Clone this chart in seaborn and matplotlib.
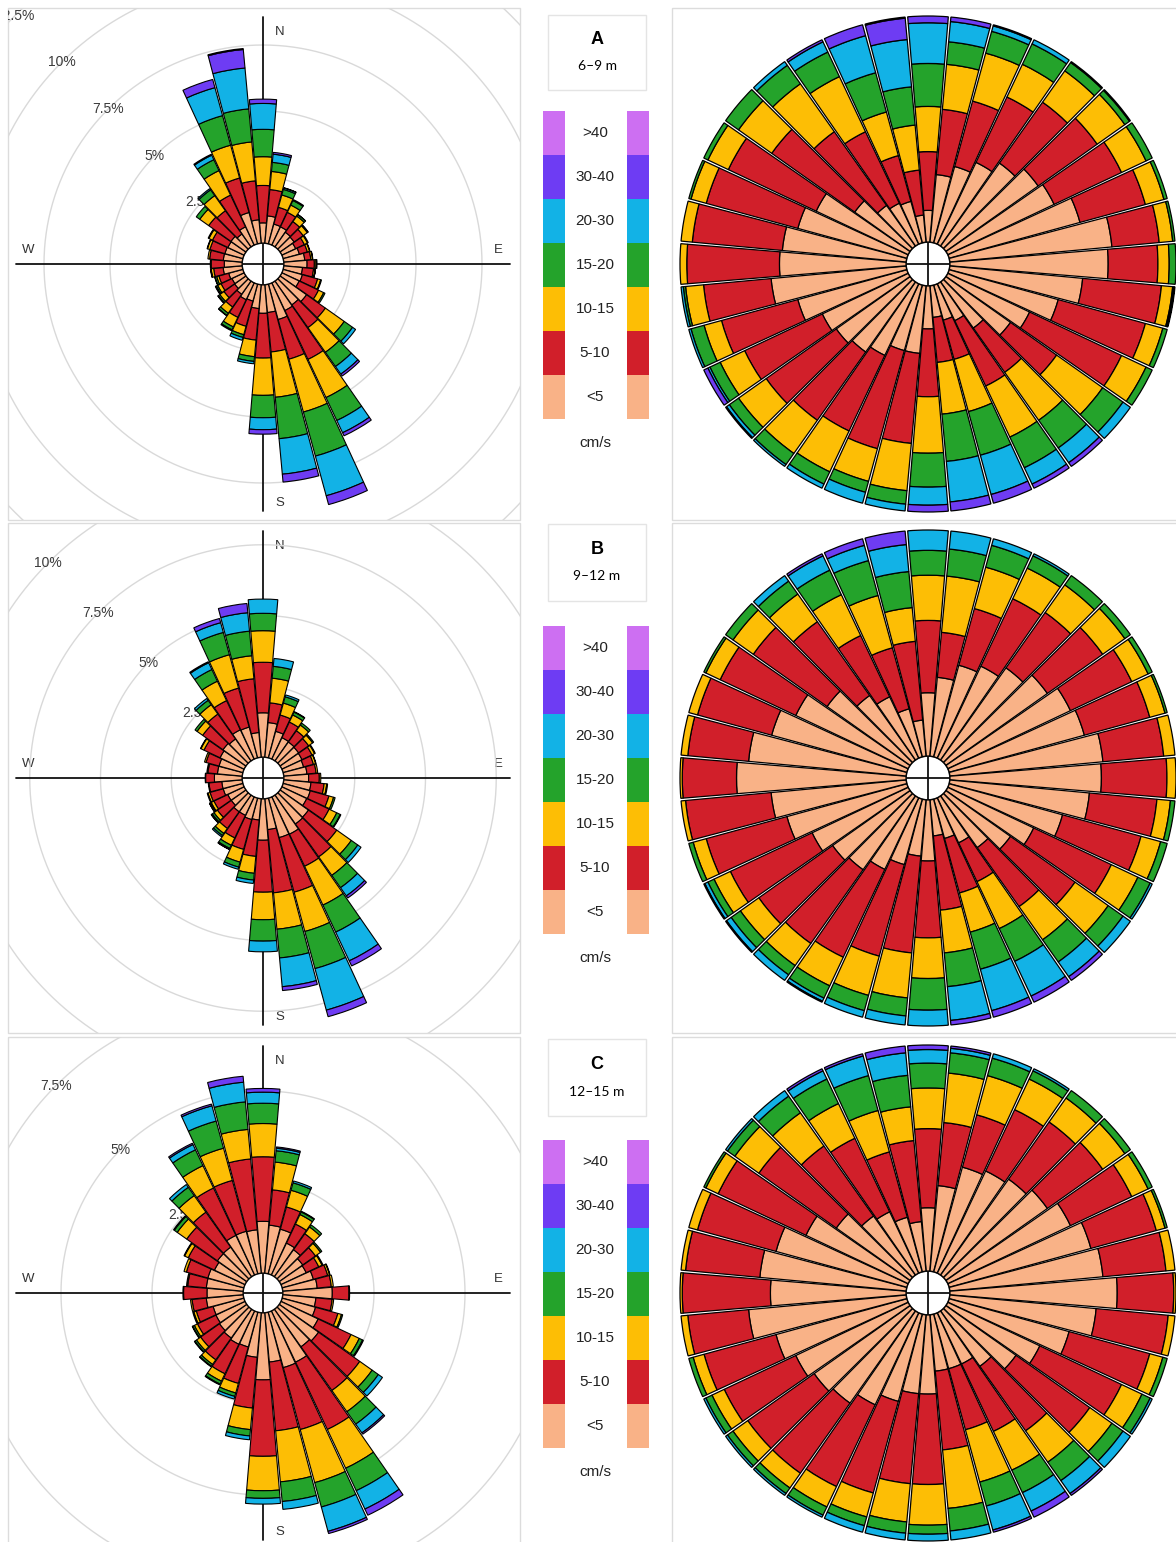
import numpy as np
import matplotlib
matplotlib.use("Agg")
import matplotlib.pyplot as plt
import seaborn as sns
from matplotlib.patches import Rectangle
from matplotlib.transforms import Bbox, TransformedBbox

sns.set_theme(style="white")
plt.rcParams['font.family'] = ['Liberation Sans', 'DejaVu Sans']

# ---------------- data ----------------
dir_deg = np.arange(0, 360, 10)
speed_classes = ['<5', '5-10', '10-15', '15-20', '20-30', '30-40', '>40']
class_colors = ['#f9b287', '#d11f2a', '#fdbe05', '#24a32b', '#12b2e6', '#6e3cf3', '#cd6ff2']
panel_letters = ['A', 'B', 'C']
panel_depths = ['6\u20139 m', '9\u201312 m', '12\u201315 m']

# direction frequency (% of all records)
A_total = [5.45, 3.45, 2.2, 1.9, 1.5, 1.3, 1.1, 1.05, 1.1, 1.25,
           1.2, 1.5, 1.8, 3.5, 4.4, 6.4, 8.65, 7.5, 5.65, 3.0,
           2.2, 2.0, 1.6, 1.3, 1.2, 1.1, 1.2, 1.2, 1.3, 1.4,
           1.5, 2.3, 2.7, 3.8, 6.45, 7.4]
# cumulative share of each direction (%), upper edge of each speed class
A_cum_5 = [14, 30, 35, 40, 45, 50, 52, 60, 72, 70, 59, 50, 40, 35, 25, 18, 16, 14, 19, 30,
           30, 35, 38, 40, 42, 50, 60, 56, 55, 50, 45, 30, 22, 20, 19, 12]
A_cum_10 = [40, 59, 65, 72, 78, 82, 85, 90, 93, 92, 94, 90, 85, 60, 49, 50, 34, 34, 49, 70,
            75, 72, 75, 78, 80, 85, 90, 97, 95, 92, 88, 75, 62, 55, 40, 32]
A_cum_15 = [60, 79, 87, 88, 95, 97, 97, 98.5, 99, 97, 99, 98, 97, 85, 75, 75, 58, 57, 74, 91,
            90, 92, 93, 93, 92, 93, 98, 100, 100, 99, 98, 93, 88, 82, 60, 52]
A_cum_20 = [79, 89, 97, 98, 99.5, 99.5, 100, 100, 100, 100, 99.5, 100, 100, 96, 90, 90, 78, 78, 89, 97,
            95, 98, 99, 98, 97, 99, 99, 100, 100, 100, 100, 100, 98, 94, 78, 69]
A_cum_30 = [97, 98, 99.5, 100, 100, 100, 100, 100, 100, 100, 99.7, 100, 100, 100, 98, 98, 96, 96, 97, 100,
            100, 100, 100, 99.5, 98, 100, 100, 100, 100, 100, 100, 100, 100, 99, 95, 90]
A_cum_40 = [100] * 35 + [99.5]

B_total = [5.58, 3.5, 2.3, 1.85, 1.63, 1.45, 1.3, 1.2, 1.2, 1.3,
           1.55, 1.9, 2.3, 3.5, 4.45, 6.6, 8.0, 6.8, 5.4, 3.0,
           2.6, 2.05, 1.8, 1.5, 1.35, 1.3, 1.2, 1.3, 1.25, 1.4,
           1.7, 2.2, 2.7, 3.8, 5.1, 5.45]
B_cum_5 = [28, 35, 42, 45, 50, 55, 60, 62, 68, 67, 62, 52, 42, 35, 28, 22, 18, 16, 27, 25,
           30, 35, 40, 42, 47, 55, 60, 75, 70, 62, 55, 45, 35, 30, 22, 16]
B_cum_10 = [60, 55, 68, 78, 80, 85, 90, 92, 95, 96, 92, 88, 80, 70, 60, 41, 43, 49, 61, 68,
            72, 78, 80, 82, 87, 92, 98, 99, 97, 96, 92, 85, 75, 60, 50, 51]
B_cum_15 = [80, 80, 87, 93, 95, 97, 98, 99, 100, 100, 98, 97, 93, 88, 78, 64, 61, 68, 79, 88,
            90, 92, 92, 92, 95, 98, 100, 100, 100, 100, 99, 96, 90, 80, 74, 66]
B_cum_20 = [91, 92, 97, 99, 100, 100, 100, 100, 100, 100, 100, 100, 99, 96, 90, 80, 78, 83, 93, 96,
            97, 98, 97, 97, 98, 100, 100, 100, 100, 100, 100, 100, 97, 92, 90, 82]
B_cum_30 = [100, 100, 100, 100, 100, 100, 100, 100, 100, 100, 100, 100, 100, 100, 98, 97, 97, 98, 100, 100,
            100, 99.5, 100, 99.5, 99.5, 100, 100, 100, 100, 100, 100, 100, 100, 99, 97, 94]
B_cum_40 = [100] * 36

C_total = [5.07, 3.48, 2.64, 1.93, 1.74, 1.43, 1.27, 1.36, 1.39, 1.83,
           1.4, 1.72, 2.5, 3.47, 4.2, 6.2, 6.3, 5.42, 5.25, 3.5,
           2.47, 2.24, 1.93, 1.76, 1.6, 1.45, 1.45, 1.65, 1.56, 1.7,
           1.85, 2.46, 3.1, 4.0, 4.83, 5.43]
C_cum_5 = [28, 38, 48, 50, 52, 55, 60, 65, 68, 74, 65, 55, 45, 38, 30, 25, 25, 25, 35, 35,
           40, 45, 50, 52, 55, 60, 70, 60, 65, 60, 50, 40, 32, 30, 25, 22]
C_cum_10 = [63, 66, 72, 80, 83, 85, 90, 95, 96, 99, 97, 92, 85, 78, 65, 58, 53, 60, 75, 75,
            82, 85, 88, 88, 90, 93, 97, 99, 98, 96, 93, 82, 70, 66, 55, 58]
C_cum_15 = [81, 88, 90, 95, 96, 97, 98, 99, 100, 100, 100, 98, 95, 90, 82, 77, 77, 86, 93, 92,
            93, 95, 96, 96, 96, 98, 100, 100, 100, 100, 99, 95, 88, 83, 74, 73]
C_cum_20 = [92, 97, 98, 99, 100, 100, 100, 100, 100, 100, 100, 100, 99, 96, 92, 88, 88, 96, 97, 97,
            97, 99, 99, 99, 99, 100, 100, 100, 100, 100, 100, 99, 97, 95, 90, 87]
C_cum_30 = [98, 99, 100, 100, 100, 100, 100, 100, 100, 100, 100, 100, 100, 100, 99, 97, 99, 100, 100, 100,
            100, 100, 100, 100, 100, 100, 100, 100, 100, 100, 100, 100, 100, 99, 99, 97]
C_cum_40 = [100] * 36

ring_values = [2.5, 5, 7.5, 10, 12.5]

panels = [
    dict(total=A_total, cums=[A_cum_5, A_cum_10, A_cum_15, A_cum_20, A_cum_30, A_cum_40]),
    dict(total=B_total, cums=[B_cum_5, B_cum_10, B_cum_15, B_cum_20, B_cum_30, B_cum_40]),
    dict(total=C_total, cums=[C_cum_5, C_cum_10, C_cum_15, C_cum_20, C_cum_30, C_cum_40]),
]

# ---------------- layout ----------------
W, H = 1176, 1542
fig = plt.figure(figsize=(W / 100, H / 100), dpi=100)
fig.patch.set_facecolor('white')
palette = sns.color_palette(class_colors)

overlay = fig.add_axes([0, 0, 1, 1])
overlay.set_xlim(0, W)
overlay.set_ylim(H, 0)
overlay.axis('off')

row_cy = [264, 778, 1293]
row_top = [8, 523, 1037]
row_bot = [520, 1033, 1548]
px_per_pct = [26.4, 28.3, 36.4]
hole_px = [21, 21, 20]
legend_top = [111, 626, 1140]
box_top = [15, 524, 1039]
box_bot = [90, 601, 1116]


def panel_box(x0, y0, x1, y1):
    return TransformedBbox(Bbox.from_extents(x0 / W, 1 - y1 / H, x1 / W, 1 - y0 / H), fig.transFigure)


def clip(artist, box):
    artist.set_clip_path(None)
    artist.set_clip_box(box)
    artist.set_clip_on(True)


def polar_axes(cx, cy, R):
    ax = fig.add_axes([(cx - R) / W, 1 - (cy + R) / H, 2 * R / W, 2 * R / H], projection='polar')
    ax.set_theta_zero_location('N')
    ax.set_theta_direction(-1)
    ax.patch.set_visible(False)
    for s in ax.spines.values():
        s.set_visible(False)
    ax.grid(False)
    ax.set_xticks([])
    ax.set_yticks([])
    return ax


def stacked(ax, totals, cums, box, width_frac, lw):
    theta = np.deg2rad(dir_deg)
    width = np.deg2rad(10) * width_frac
    totals = np.asarray(totals, dtype=float)
    lower = np.zeros(len(dir_deg))
    bounds = list(cums) + [[100] * len(dir_deg)]
    for k in range(7):
        upper = np.asarray(bounds[k], dtype=float) * totals / 100.0
        h = upper - lower
        m = h > 1e-6
        bars = ax.bar(theta[m], h[m], width=width, bottom=lower[m], color=palette[k],
                      edgecolor='black', linewidth=lw, zorder=3, align='center')
        for b in bars:
            clip(b, box)
        lower = upper


tt = np.linspace(0, 2 * np.pi, 721)

for i, p in enumerate(panels):
    cy = row_cy[i]
    # ----- left: frequency rose -----
    cx = 263
    box = panel_box(8, row_top[i], 520, row_bot[i])
    overlay.add_patch(Rectangle((8, row_top[i]), 512, row_bot[i] - row_top[i], fill=False,
                                edgecolor='#dcdcdc', lw=1))
    ppp, hole = px_per_pct[i], hole_px[i]
    R = 372
    rmax = (R - hole) / ppp
    ax = polar_axes(cx, cy, R)
    ax.set_ylim(0, rmax)
    ax.set_rorigin(-hole / ppp)
    for v in ring_values:
        if v < rmax:
            ln = ax.plot(tt, np.full_like(tt, v), color='#d9d9d9', lw=1.0, zorder=1)[0]
            clip(ln, box)
            t = ax.text(np.deg2rad(315), v, f'{v:g}%', ha='center', va='center',
                        fontsize=10, color='#3a3a3a', zorder=2)
            clip(t, box)
    lcross = (247 - hole) / ppp
    for th in [0, 90, 180, 270]:
        ln = ax.plot([np.deg2rad(th)] * 2, [-hole / ppp, lcross], color='#111111', lw=1.3, zorder=2)[0]
        clip(ln, box)
    stacked(ax, p['total'], p['cums'], box, 0.95, 0.8)
    for lab, dx, dy in [('N', 17, -232), ('E', 235, -14), ('S', 17, 239), ('W', -235, -14)]:
        overlay.text(cx + dx, cy + dy, lab, ha='center', va='center', fontsize=9.5, color='#333333')

    # ----- right: proportional rose -----
    cx2 = 928
    box2 = panel_box(672, row_top[i], W + 5, row_bot[i])
    overlay.add_patch(Rectangle((672, row_top[i]), 520, row_bot[i] - row_top[i], fill=False,
                                edgecolor='#dcdcdc', lw=1))
    R2, hole2 = 248, 22
    ax2 = polar_axes(cx2, cy, R2)
    ax2.set_ylim(0, 100)
    rorg = -hole2 * 100 / (R2 - hole2)
    ax2.set_rorigin(rorg)
    for th in [0, 90, 180, 270]:
        ln = ax2.plot([np.deg2rad(th)] * 2, [rorg, 0], color='#111111', lw=1.3, zorder=2)[0]
        clip(ln, box2)
    stacked(ax2, [100] * 36, p['cums'], box2, 0.94, 0.9)

    # ----- legend column -----
    overlay.add_patch(Rectangle((548, box_top[i]), 98, box_bot[i] - box_top[i], fill=False,
                                edgecolor='#e4e4e4', lw=1))
    mid = (box_top[i] + box_bot[i]) / 2
    overlay.text(597, mid - 13, panel_letters[i], ha='center', va='center', fontsize=13,
                 fontweight='bold', color='black', family=['Liberation Sans', 'DejaVu Sans'])
    overlay.text(597, mid + 14, panel_depths[i], ha='center', va='center', fontsize=10,
                 color='black', family=['Lato', 'DejaVu Sans'])
    top = legend_top[i]
    bh = 44
    for j, k in enumerate(range(6, -1, -1)):
        y0 = top + j * bh
        overlay.add_patch(Rectangle((543, y0), 22, bh, facecolor=palette[k], edgecolor='none'))
        overlay.add_patch(Rectangle((627, y0), 22, bh, facecolor=palette[k], edgecolor='none'))
        overlay.text(595, y0 + bh / 2, speed_classes[k], ha='center', va='center',
                     fontsize=11, color='#222222')
    overlay.text(595, top + 7 * bh + 24, 'cm/s', ha='center', va='center', fontsize=11,
                 color='#222222')

fig.savefig('out.png', dpi=100, facecolor='white')
